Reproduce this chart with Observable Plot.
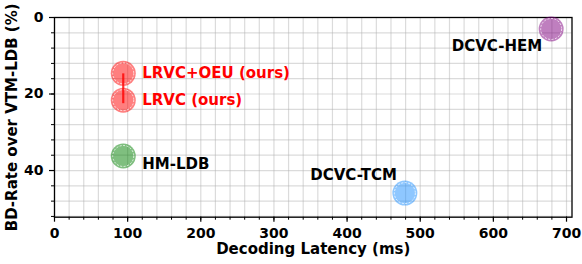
<!DOCTYPE html>
<html>
<head>
<meta charset="utf-8">
<script src="https://cdn.jsdelivr.net/npm/d3@7"></script>
<script src="https://cdn.jsdelivr.net/npm/@observablehq/plot@0.6"></script>
<style>
  html, body { margin: 0; padding: 0; background: #fff; }
  svg { display: block; }
</style>
</head>
<body>
<div id="chart"></div>
<script>
const methods = ["LRVC+OEU (ours)", "LRVC (ours)", "HM-LDB", "DCVC-TCM", "DCVC-HEM"];
const latency = [94, 94, 94, 479, 679];
const bdrate = [14.6, 21.6, 36.2, 45.9, 3.0];
const xTicks = [0, 100, 200, 300, 400, 500, 600, 700];
const yTicks = [0, 20, 40];
const xMinor = d3.range(0, 701, 20);
const yMinor = d3.range(0, 53, 4);

const data = methods.map((m, i) => ({method: m, x: latency[i], y: bdrate[i]}));
const pick = name => data.filter(d => d.method === name);

const font = "DejaVu Sans, sans-serif";
const textStyle = {fontFamily: font, fontWeight: "bold", fontSize: 15};

const chart = Plot.plot({
  width: 582,
  height: 264,
  marginLeft: 54,
  marginRight: 10.5,
  marginTop: 17,
  marginBottom: 47.3,
  style: {fontFamily: font, fontWeight: "bold", fontSize: "14px", background: "#fff"},
  x: {domain: [0, 707.5]},
  y: {domain: [0, 52.2], reverse: true},
  color: {
    domain: methods,
    range: ["#ff0000", "#ff0000", "#008000", "#1e90ff", "#800080"]
  },
  marks: [
    Plot.gridX(xMinor, {stroke: "#b0b0b0", strokeOpacity: 0.45, strokeWidth: 1.2}),
    Plot.gridY(yMinor, {stroke: "#b0b0b0", strokeOpacity: 0.45, strokeWidth: 1.2}),
    Plot.axisX(xMinor, {tickSize: 3, text: null, label: null, strokeWidth: 1}),
    Plot.axisY(yMinor, {tickSize: 3, text: null, label: null, strokeWidth: 1}),
    Plot.axisX(xTicks, {tickSize: 5, tickPadding: 6, fontSize: 14, fontWeight: "bold", label: null, strokeWidth: 1.2}),
    Plot.axisY(yTicks, {tickSize: 5, tickPadding: 6, fontSize: 14, fontWeight: "bold", label: null, strokeWidth: 1.2}),
    Plot.frame({stroke: "#000", strokeWidth: 1.3}),
    Plot.dot(data, {x: "x", y: "y", r: 12.5, fill: "method", fillOpacity: 0.5, stroke: "none"}),
    Plot.dot(data, {x: "x", y: "y", r: 10.5, fill: "none", stroke: "#fff", strokeWidth: 0.9, strokeDasharray: "2,1.5", strokeOpacity: 0.85}),
    Plot.link([0], {x1: () => latency[0], x2: () => latency[1], y1: () => bdrate[0], y2: () => bdrate[1] + 0.8, stroke: "#ff0000", strokeWidth: 2.2, strokeOpacity: 0.8}),
    Plot.text(pick("LRVC+OEU (ours)"), {x: "x", y: "y", text: "method", textAnchor: "start", dx: 19, dy: 0, fill: "#ff0000", ...textStyle}),
    Plot.text(pick("LRVC (ours)"), {x: "x", y: "y", text: "method", textAnchor: "start", dx: 19, dy: 0, fill: "#ff0000", ...textStyle}),
    Plot.text(pick("HM-LDB"), {x: "x", y: "y", text: "method", textAnchor: "start", dx: 19, dy: 8, fill: "#000", ...textStyle}),
    Plot.text(pick("DCVC-TCM"), {x: "x", y: "y", text: "method", textAnchor: "end", dx: -8, dy: -18, fill: "#000", ...textStyle}),
    Plot.text(pick("DCVC-HEM"), {x: "x", y: "y", text: "method", textAnchor: "end", dx: -9, dy: 17, fill: "#000", ...textStyle}),
    Plot.text(["Decoding Latency (ms)"], {frameAnchor: "bottom", textAnchor: "middle", dy: 37, fill: "#000", ...textStyle}),
    Plot.text(["BD-Rate over VTM-LDB (%)"], {frameAnchor: "left", textAnchor: "middle", rotate: -90, dx: -42.5, fill: "#000", ...textStyle})
  ]
});
document.getElementById("chart").appendChild(chart);
</script>
</body>
</html>
